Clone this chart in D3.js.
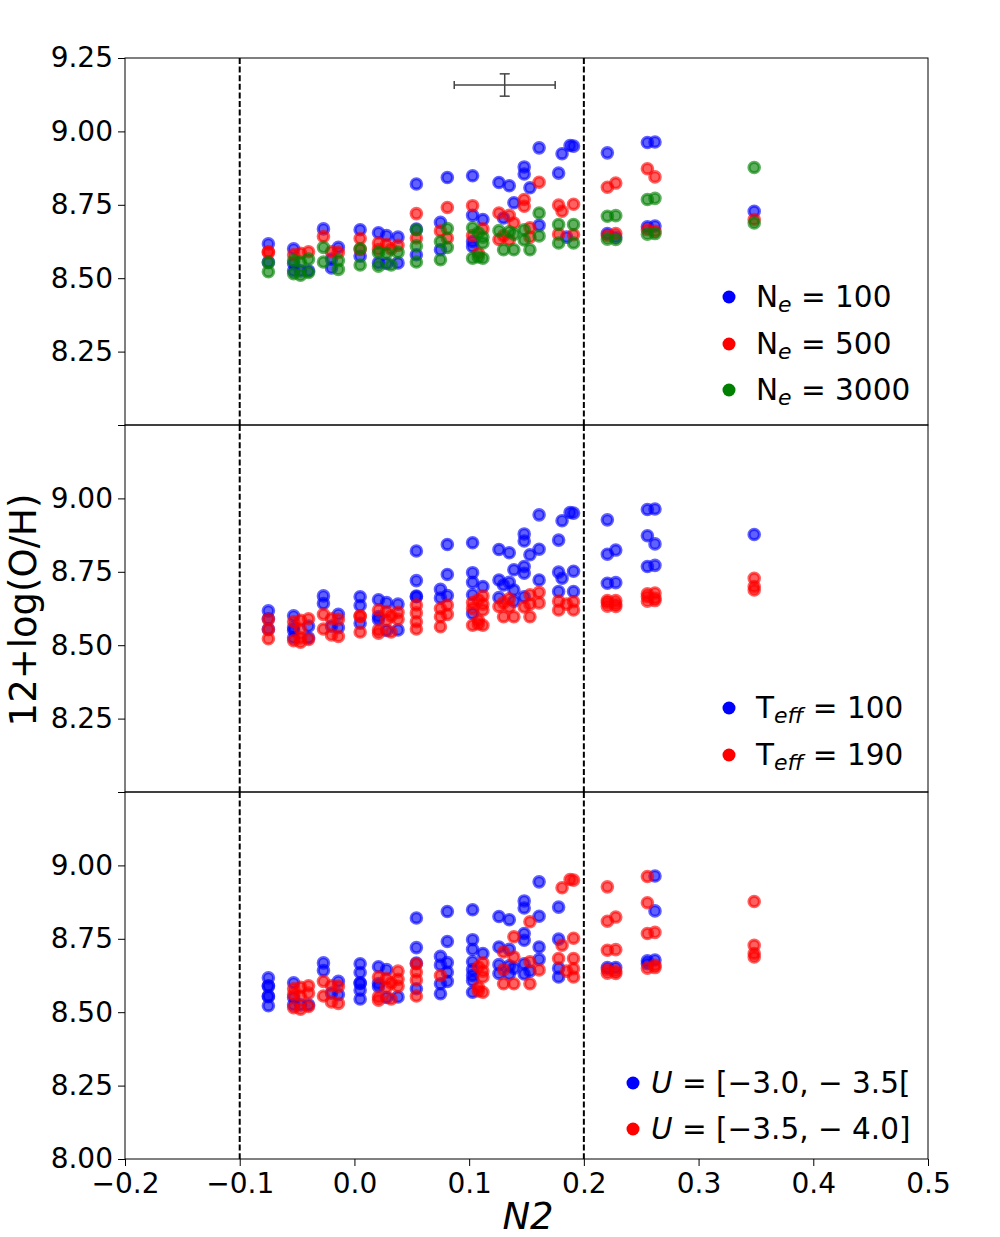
<!DOCTYPE html>
<html>
<head>
<meta charset="utf-8">
<script src="https://cdn.jsdelivr.net/npm/d3@7"></script>
<style>
  body { margin: 0; background: #fff; }
  text { font-family: "DejaVu Sans", sans-serif; }
</style>
</head>
<body>
<svg id="chart" width="1000" height="1237"></svg>
<script>
// categories used to colour the three panels
const neLabels = ["100", "500", "3000"];
const teffLabels = ["100", "190"];
const uLabels = ["[\u22123.0, \u2212 3.5[", "[\u22123.5, \u2212 4.0]"];
const seriesColors = ["blue", "red", "green"];

// tick labels
const xTicks = [-0.2, -0.1, 0.0, 0.1, 0.2, 0.3, 0.4, 0.5];
const yTicksAll = [8.0, 8.25, 8.5, 8.75, 9.0, 9.25];
const yLabelsTop = [8.25, 8.5, 8.75, 9.0, 9.25];
const yLabelsMid = [8.25, 8.5, 8.75, 9.0];
const yLabelsBot = [8.0, 8.25, 8.5, 8.75, 9.0];

// N2 limits (dashed lines) and the typical error bar
const n2Limits = [-0.1, 0.2];
const errBar = [0.131, 9.158, 0.044, 0.038]; // x, y, xerr, yerr

// models: [N2, 12+log(O/H), Ne index, Teff index, U index]
const models = [
  [-0.075, 8.617, 0, 0, 0], [-0.075, 8.590, 1, 0, 0], [-0.075, 8.588, 1, 1, 0],
  [-0.075, 8.555, 0, 0, 0], [-0.075, 8.553, 2, 1, 0], [-0.075, 8.522, 2, 1, 0],
  [-0.053, 8.600, 0, 0, 0], [-0.053, 8.580, 1, 1, 1], [-0.053, 8.560, 2, 0, 1],
  [-0.053, 8.550, 0, 0, 0], [-0.053, 8.525, 0, 0, 0], [-0.053, 8.515, 2, 1, 1],
  [-0.047, 8.585, 1, 1, 1], [-0.047, 8.555, 2, 1, 1], [-0.047, 8.525, 0, 1, 0],
  [-0.047, 8.510, 2, 1, 1], [-0.040, 8.590, 1, 1, 1], [-0.040, 8.565, 2, 0, 1],
  [-0.040, 8.525, 0, 0, 0], [-0.040, 8.520, 2, 1, 1],
  [-0.027, 8.668, 0, 0, 0], [-0.027, 8.642, 1, 0, 0], [-0.027, 8.605, 2, 1, 1],
  [-0.014, 8.605, 0, 0, 0], [-0.020, 8.590, 1, 1, 1], [-0.014, 8.588, 1, 1, 1],
  [-0.020, 8.565, 0, 0, 0], [-0.027, 8.555, 2, 1, 1], [-0.014, 8.560, 2, 0, 0],
  [-0.020, 8.535, 0, 1, 1], [-0.014, 8.530, 2, 1, 1],
  [0.005, 8.665, 0, 0, 0], [0.005, 8.635, 1, 0, 0], [0.005, 8.600, 2, 1, 0],
  [0.005, 8.598, 1, 1, 0], [0.005, 8.575, 0, 0, 0], [0.005, 8.545, 2, 1, 0],
  [0.021, 8.655, 0, 0, 0], [0.028, 8.645, 0, 0, 0], [0.038, 8.640, 0, 0, 1],
  [0.021, 8.620, 1, 1, 1], [0.028, 8.615, 1, 1, 1], [0.038, 8.612, 1, 1, 1],
  [0.021, 8.598, 1, 0, 0], [0.032, 8.600, 1, 1, 1], [0.021, 8.587, 2, 0, 0],
  [0.028, 8.585, 2, 1, 1], [0.038, 8.588, 2, 1, 1], [0.021, 8.552, 0, 1, 1],
  [0.028, 8.550, 0, 0, 0], [0.038, 8.552, 0, 0, 0], [0.021, 8.541, 2, 1, 1],
  [0.032, 8.545, 2, 1, 1],
  [0.054, 8.821, 0, 0, 0], [0.054, 8.720, 1, 0, 0], [0.054, 8.667, 0, 0, 0],
  [0.054, 8.665, 2, 0, 1], [0.054, 8.637, 1, 1, 1], [0.054, 8.610, 2, 1, 1],
  [0.054, 8.580, 0, 1, 0], [0.054, 8.555, 2, 1, 1],
  [0.081, 8.843, 0, 0, 0], [0.081, 8.741, 1, 0, 0], [0.075, 8.690, 0, 0, 0],
  [0.075, 8.661, 1, 0, 0], [0.081, 8.669, 2, 0, 0], [0.081, 8.637, 1, 1, 0],
  [0.075, 8.625, 2, 1, 1], [0.081, 8.605, 2, 1, 0], [0.075, 8.597, 0, 1, 0],
  [0.075, 8.563, 2, 1, 0],
  [0.103, 8.849, 0, 0, 0], [0.103, 8.747, 1, 0, 0], [0.103, 8.714, 0, 0, 0],
  [0.112, 8.700, 0, 0, 0], [0.103, 8.672, 2, 0, 0], [0.112, 8.668, 1, 1, 1],
  [0.108, 8.655, 2, 1, 1], [0.103, 8.645, 1, 1, 0], [0.112, 8.640, 2, 1, 1],
  [0.103, 8.625, 0, 1, 0], [0.112, 8.620, 2, 1, 1], [0.103, 8.608, 0, 0, 0],
  [0.108, 8.585, 1, 1, 1], [0.103, 8.568, 2, 1, 0], [0.112, 8.568, 2, 1, 1],
  [0.108, 8.572, 2, 1, 1],
  [0.126, 8.826, 0, 0, 0], [0.135, 8.815, 0, 0, 0], [0.139, 8.757, 0, 0, 1],
  [0.126, 8.722, 1, 0, 0], [0.135, 8.714, 1, 0, 0], [0.130, 8.705, 0, 0, 1],
  [0.139, 8.688, 1, 0, 1], [0.126, 8.662, 2, 0, 0], [0.135, 8.658, 2, 1, 0],
  [0.130, 8.645, 1, 1, 1], [0.139, 8.650, 2, 0, 0], [0.126, 8.632, 1, 1, 0],
  [0.135, 8.630, 1, 1, 0], [0.130, 8.597, 2, 1, 1], [0.139, 8.597, 2, 1, 1],
  [0.161, 8.944, 0, 0, 0], [0.148, 8.879, 0, 0, 0], [0.148, 8.855, 0, 0, 0],
  [0.161, 8.827, 1, 0, 0], [0.153, 8.808, 0, 0, 1], [0.148, 8.768, 1, 0, 0],
  [0.148, 8.745, 1, 0, 0], [0.161, 8.722, 2, 0, 0], [0.161, 8.680, 0, 1, 0],
  [0.153, 8.672, 1, 1, 1], [0.148, 8.665, 2, 0, 0], [0.161, 8.644, 2, 1, 1],
  [0.153, 8.640, 1, 1, 0], [0.148, 8.630, 2, 1, 0], [0.153, 8.597, 2, 1, 1],
  [0.191, 8.950, 0, 0, 1], [0.188, 8.952, 0, 0, 1], [0.181, 8.924, 0, 0, 1],
  [0.178, 8.858, 0, 0, 0], [0.178, 8.749, 1, 0, 0], [0.191, 8.752, 1, 0, 1],
  [0.181, 8.728, 1, 0, 1], [0.178, 8.683, 2, 0, 1], [0.191, 8.683, 2, 0, 1],
  [0.178, 8.650, 1, 1, 0], [0.191, 8.648, 1, 1, 1], [0.185, 8.640, 0, 1, 1],
  [0.178, 8.620, 2, 1, 0], [0.191, 8.620, 2, 1, 1],
  [0.2205, 8.927, 0, 0, 1], [0.2205, 8.810, 1, 0, 1], [0.2278, 8.824, 1, 0, 1],
  [0.2205, 8.711, 2, 0, 1], [0.2278, 8.713, 2, 0, 1], [0.2205, 8.652, 0, 1, 0],
  [0.2278, 8.652, 1, 1, 0], [0.2205, 8.645, 1, 1, 1], [0.2278, 8.640, 0, 1, 1],
  [0.2205, 8.633, 2, 1, 1], [0.2278, 8.632, 2, 1, 1],
  [0.2554, 8.962, 0, 0, 1], [0.262, 8.964, 0, 0, 0], [0.2554, 8.873, 1, 0, 1],
  [0.262, 8.845, 1, 0, 0], [0.2554, 8.768, 2, 0, 1], [0.262, 8.772, 2, 0, 1],
  [0.2554, 8.675, 0, 1, 0], [0.262, 8.678, 0, 1, 0], [0.2554, 8.665, 1, 1, 0],
  [0.262, 8.660, 1, 1, 1], [0.2554, 8.650, 2, 1, 1], [0.262, 8.652, 2, 1, 1],
  [0.3485, 8.877, 2, 0, 1], [0.3485, 8.728, 0, 1, 1], [0.3485, 8.700, 1, 1, 1],
  [0.3485, 8.688, 2, 1, 1]
];

const left = 125, right = 928, panelH = 367;

const panels = [
  {top: 58, key: 2, labels: neLabels, sym: "N", sub: "e", yLabels: yLabelsTop,
   markX: 729, textX: 756, legendY: [297, 344, 390]},
  {top: 425, key: 3, labels: teffLabels, sym: "T", sub: "eff", yLabels: yLabelsMid,
   markX: 729, textX: 756, legendY: [708, 755]},
  {top: 792, key: 4, labels: uLabels, sym: "U", sub: null, yLabels: yLabelsBot,
   markX: 633, textX: 651, legendY: [1083, 1129]}
];

const svg = d3.select("#chart");
const x = d3.scaleLinear().domain([-0.2, 0.5]).range([left, right]);

panels.forEach((p, pi) => {
  const y = d3.scaleLinear().domain([8.0, 9.25]).range([p.top + panelH, p.top]);
  const g = svg.append("g");

  // dashed N2 limits
  g.selectAll("line.lim").data(n2Limits).enter().append("line")
    .attr("x1", d => x(d)).attr("x2", d => x(d))
    .attr("y1", p.top).attr("y2", p.top + panelH)
    .attr("stroke", "black").attr("stroke-width", 2)
    .attr("stroke-dasharray", "6,2.6");

  // points, drawn category by category
  const pts = models.slice().sort((a, b) => a[p.key] - b[p.key]);
  g.selectAll("circle.pt").data(pts).enter().append("circle")
    .attr("cx", d => x(d[0])).attr("cy", d => y(d[1]))
    .attr("r", 5.2)
    .attr("fill", d => seriesColors[d[p.key]]).attr("fill-opacity", 0.62)
    .attr("stroke", d => seriesColors[d[p.key]]).attr("stroke-opacity", 0.62)
    .attr("stroke-width", 3.2);

  // y axis
  const ya = g.append("g").attr("transform", `translate(${left},0)`)
    .call(d3.axisLeft(y).tickValues(yTicksAll).tickSize(7).tickPadding(5)
      .tickFormat(v => p.yLabels.includes(v) ? d3.format(".2f")(v) : ""));
  ya.select(".domain").remove();
  ya.selectAll("text").attr("font-size", 28).attr("fill", "black")
    .style("font-family", "DejaVu Sans");
  ya.selectAll("line").attr("stroke", "black");

  // frame
  g.append("rect").attr("x", left).attr("y", p.top)
    .attr("width", right - left).attr("height", panelH)
    .attr("fill", "none").attr("stroke", "black").attr("stroke-width", 1);

  // legend
  const leg = g.selectAll("g.leg").data(p.labels).enter().append("g")
    .attr("transform", (d, i) => `translate(0,${p.legendY[i]})`);
  leg.append("circle").attr("cx", p.markX).attr("cy", 0).attr("r", 6.5)
    .attr("fill", (d, i) => seriesColors[i]);
  const t = leg.append("text").attr("x", p.textX).attr("y", 0)
    .attr("dominant-baseline", "central").attr("font-size", 29.5).attr("fill", "black");
  if (p.sub) {
    t.append("tspan").text(p.sym);
    t.append("tspan").attr("font-size", 22).attr("font-style", "italic")
      .attr("dy", 7).text(p.sub);
    t.append("tspan").attr("dy", -7).text(d => " = " + d);
  } else {
    t.append("tspan").attr("font-style", "italic").text(p.sym);
    t.append("tspan").text(d => " = " + d);
  }

  if (pi === 0) {
    const ex = errBar[0], ey = errBar[1], dx = errBar[2], dy = errBar[3];
    const eg = g.append("g").attr("stroke", "#444").attr("stroke-width", 1.5);
    eg.append("line").attr("x1", x(ex - dx)).attr("x2", x(ex + dx))
      .attr("y1", y(ey)).attr("y2", y(ey));
    eg.append("line").attr("x1", x(ex)).attr("x2", x(ex))
      .attr("y1", y(ey - dy)).attr("y2", y(ey + dy));
    [ex - dx, ex + dx].forEach(v => eg.append("line")
      .attr("x1", x(v)).attr("x2", x(v)).attr("y1", y(ey) - 4).attr("y2", y(ey) + 4));
    [ey - dy, ey + dy].forEach(v => eg.append("line")
      .attr("x1", x(ex) - 5).attr("x2", x(ex) + 5).attr("y1", y(v)).attr("y2", y(v)));
  }

  if (pi === 2) {
    const xa = g.append("g").attr("transform", `translate(0,${p.top + panelH})`)
      .call(d3.axisBottom(x).tickValues(xTicks).tickSize(7).tickPadding(7)
        .tickFormat(d3.format(".1f")));
    xa.select(".domain").remove();
    xa.selectAll("text").attr("font-size", 28).attr("fill", "black")
      .style("font-family", "DejaVu Sans");
    xa.selectAll("line").attr("stroke", "black");
  }
});

// axis titles
svg.append("text").attr("transform", "translate(36,610) rotate(-90)")
  .attr("text-anchor", "middle").attr("font-size", 37).attr("fill", "black")
  .text("12+log(O/H)");
svg.append("text").attr("x", 528).attr("y", 1229)
  .attr("text-anchor", "middle").attr("font-size", 37).attr("font-style", "italic")
  .attr("fill", "black").text("N2");
</script>
</body>
</html>
